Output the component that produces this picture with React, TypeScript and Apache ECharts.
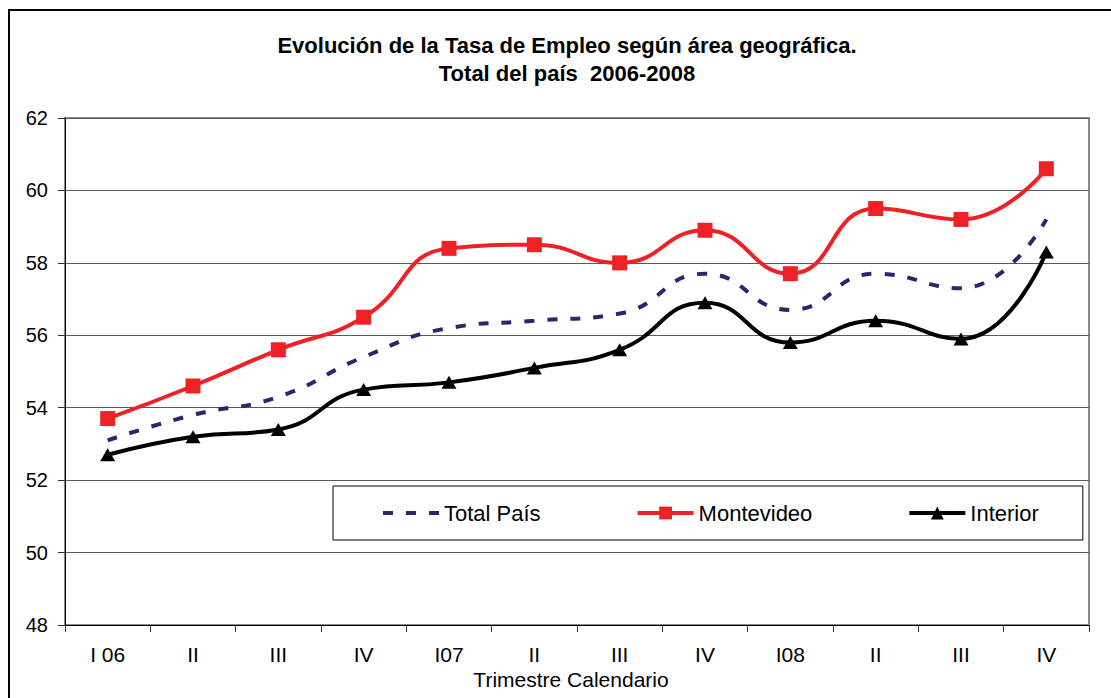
import React, { useEffect, useRef } from "react";
import * as echarts from "echarts";

const categories = ["I 06", "II", "III", "IV", "I07", "II", "III", "IV", "I08", "II", "III", "IV"];
const totalPais = [53.1, 53.8, 54.3, 55.4, 56.2, 56.4, 56.6, 57.7, 56.7, 57.7, 57.3, 59.2];
const montevideo = [53.7, 54.6, 55.6, 56.5, 58.4, 58.5, 58.0, 58.9, 57.7, 59.5, 59.2, 60.6];
const interior = [52.7, 53.2, 53.4, 54.5, 54.7, 55.1, 55.6, 56.9, 55.8, 56.4, 55.9, 58.3];
const seriesNames = ["Total País", "Montevideo", "Interior"];
const yMin = 48;
const yMax = 62;
const yInterval = 2;
const titleLines = ["Evolución de la Tasa de Empleo según área geográfica.", "Total del país  2006-2008"];
const xAxisTitle = "Trimestre Calendario";

const FONT = '"Liberation Sans", Arial, sans-serif';

export default function App() {
  const ref = useRef<HTMLDivElement>(null);
  useEffect(() => {
    if (!ref.current) return;
    const chart = echarts.init(ref.current, null, { renderer: "svg" });
    chart.setOption({
      animation: false,
      backgroundColor: "#ffffff",
      grid: {
        left: 65,
        right: 22,
        top: 118,
        bottom: 73,
        show: true,
        borderColor: "#8a8a8a",
        borderWidth: 2,
      },
      graphic: [
        {
          type: "rect",
          shape: { x: 9, y: 10, width: 1300, height: 900 },
          style: { fill: "none", stroke: "#000", lineWidth: 2 },
          z: 100,
        },
        {
          type: "text",
          x: 567,
          y: 45,
          style: {
            text: titleLines[0],
            fontFamily: FONT,
            fontSize: 22,
            fontWeight: "bold",
            fill: "#000",
            align: "center",
            verticalAlign: "middle",
          },
        },
        {
          type: "text",
          x: 567,
          y: 73,
          style: {
            text: titleLines[1],
            fontFamily: FONT,
            fontSize: 22,
            fontWeight: "bold",
            fill: "#000",
            align: "center",
            verticalAlign: "middle",
          },
        },
        {
          type: "text",
          x: 571,
          y: 679,
          style: {
            text: xAxisTitle,
            fontFamily: FONT,
            fontSize: 21,
            fill: "#000",
            align: "center",
            verticalAlign: "middle",
          },
          z: 50,
        },
      ],
      legend: {
        data: [
          { name: seriesNames[0], itemStyle: { opacity: 0 } },
          { name: seriesNames[1] },
          { name: seriesNames[2] },
        ],
        left: 333,
        top: 486,
        orient: "horizontal",
        padding: [16, 44, 16, 48],
        itemGap: 95,
        itemWidth: 56,
        itemHeight: 16,
        backgroundColor: "#ffffff",
        borderColor: "#000",
        borderWidth: 1,
        lineStyle: { width: 4 },
        textStyle: { fontFamily: FONT, fontSize: 22, color: "#000", padding: [0, 0, 0, 0] },
        z: 20,
      },
      xAxis: {
        type: "category",
        data: categories,
        boundaryGap: true,
        axisLine: { show: true, lineStyle: { color: "#000", width: 1 } },
        axisTick: { show: true, length: 7, alignWithLabel: false, lineStyle: { color: "#333" } },
        axisLabel: { fontFamily: FONT, fontSize: 21, color: "#000", margin: 19, interval: 0 },
        splitLine: { show: false },
      },
      yAxis: {
        type: "value",
        min: yMin,
        max: yMax,
        interval: yInterval,
        axisLine: { show: true, lineStyle: { color: "#000", width: 1 } },
        axisTick: { show: true, length: 7, lineStyle: { color: "#333" } },
        axisLabel: { fontFamily: FONT, fontSize: 20, color: "#000", margin: 17 },
        splitLine: { show: true, lineStyle: { color: "#5a5a5a", width: 1 } },
      },
      series: [
        {
          name: seriesNames[0],
          type: "line",
          data: totalPais,
          smooth: 0.5,
          symbol: "none",
          showSymbol: false,
          lineStyle: { color: "#272770", width: 4, type: [10, 13] },
          itemStyle: { color: "#272770" },
          z: 3,
        },
        {
          name: seriesNames[1],
          type: "line",
          data: montevideo,
          smooth: 0.5,
          symbol: "rect",
          symbolSize: 15,
          lineStyle: { color: "#EE2226", width: 4 },
          itemStyle: { color: "#EE2226" },
          z: 4,
        },
        {
          name: seriesNames[2],
          type: "line",
          data: interior,
          smooth: 0.5,
          symbol: "triangle",
          symbolSize: [15, 13],
          lineStyle: { color: "#000", width: 4 },
          itemStyle: { color: "#000" },
          z: 5,
        },
      ],
    });
    return () => chart.dispose();
  }, []);
  return (
    <div
      ref={ref}
      style={{ position: "absolute", left: 0, top: 0, width: 1111, height: 698, background: "#fff" }}
    />
  );
}
